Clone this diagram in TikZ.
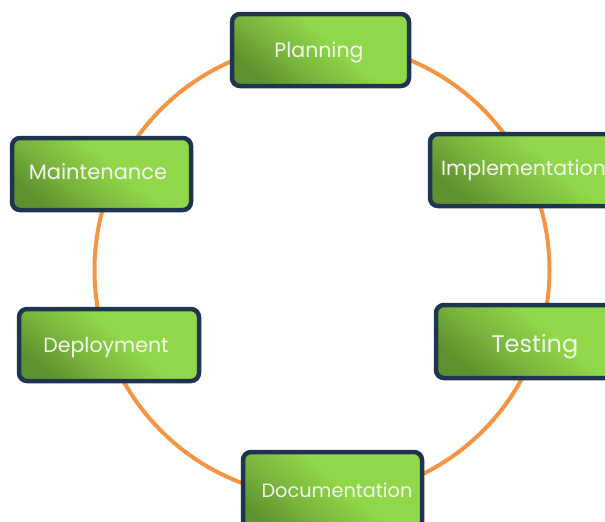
\documentclass[tikz,border=0pt]{standalone}
\usepackage{fontspec}
\setmainfont{Poppins}
\definecolor{ringc}{HTML}{F59443}
\definecolor{edgec}{HTML}{1F3450}
\definecolor{gdark}{HTML}{5E922E}
\definecolor{gmid}{HTML}{78B23C}
\definecolor{glight}{HTML}{90D84A}
\definecolor{txtc}{HTML}{F4F8EC}
\pgfdeclarehorizontalshading{boxgrad}{100bp}{color(0bp)=(gdark); color(25bp)=(gdark); color(38bp)=(gmid); color(56bp)=(glight); color(100bp)=(glight)}
\begin{document}
\begin{tikzpicture}[x=1pt,y=-1pt,
  stagebox/.style={draw=edgec, line width=4.5pt, rounded corners=8pt,
     shading=boxgrad, shading angle=50, inner sep=0pt},
  stagetext/.style={text=txtc, font=\fontsize{20.5}{20.5}\selectfont, inner sep=0pt, anchor=base}]
\useasboundingbox (0,0) rectangle (605,522);
\clip (0,0) rectangle (605,522);
\coordinate (ctr) at (322,270);
\draw[ringc, line width=4pt] (ctr) circle (227.5pt);
\path[stagebox] (232,14) rectangle (409,86);
\path[stagebox] (430,134) rectangle (640,206);
\path[stagebox] (12,138) rectangle (191,210);
\path[stagebox] (436,305) rectangle (640,378);
\path[stagebox] (19,309) rectangle (199,381);
\path[stagebox] (243,452) rectangle (422,540);
\node[stagetext] (tplan) at (319,57) {Planning};
\node[stagetext, anchor=base west] (timpl) at (441,175) {Implementation};
\node[stagetext, font=\fontsize{21}{21}\selectfont] (tmaint) at (98,179) {Maintenance};
\node[stagetext, font=\fontsize{24}{24}\selectfont] (ttest) at (535,352) {Testing};
\node[stagetext] (tdeploy) at (106,352) {Deployment};
\node[stagetext, font=\fontsize{19.3}{19.3}\selectfont] (tdoc) at (337,497) {Documentation};
\end{tikzpicture}
\end{document}
